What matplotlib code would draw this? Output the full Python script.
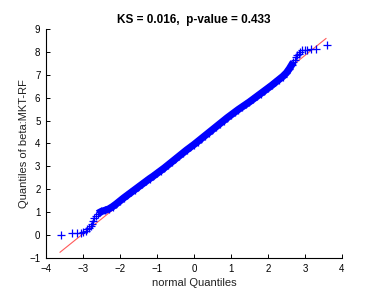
import numpy as np
import matplotlib
matplotlib.use("Agg")
import matplotlib.pyplot as plt

# theoretical normal quantiles vs sample quantiles
normal_q = [-3.60, -3.31, -3.17, -3.06, -2.99, -2.93, -2.88, -2.83, -2.79, -2.75,
            -2.72, -2.69, -2.65, -2.60, -2.55, -2.50, -2.40, -2.30, -2.20, -2.10,
            -2.00, -1.90, -1.80, -1.70, -1.60, -1.50, -1.40, -1.30, -1.20, -1.10,
            -1.00, -0.90, -0.80, -0.70, -0.60, -0.50, -0.40, -0.30, -0.20, -0.10,
            0.00, 0.10, 0.20, 0.30, 0.40, 0.50, 0.60, 0.70, 0.80, 0.90,
            1.00, 1.10, 1.20, 1.30, 1.40, 1.50, 1.60, 1.70, 1.80, 1.90,
            2.00, 2.10, 2.20, 2.30, 2.40, 2.50, 2.58, 2.64, 2.69, 2.73,
            2.76, 2.80, 2.84, 2.88, 2.93, 2.99, 3.06, 3.17, 3.31, 3.60]
beta_q = [0.02, 0.07, 0.09, 0.11, 0.15, 0.19, 0.25, 0.32, 0.40, 0.50,
          0.62, 0.75, 0.85, 0.94, 0.99, 1.03, 1.08, 1.14, 1.24, 1.36,
          1.49, 1.62, 1.74, 1.86, 1.98, 2.10, 2.22, 2.34, 2.46, 2.57,
          2.69, 2.81, 2.93, 3.06, 3.19, 3.32, 3.45, 3.58, 3.71, 3.83,
          3.95, 4.08, 4.21, 4.34, 4.47, 4.60, 4.73, 4.86, 4.99, 5.12,
          5.24, 5.36, 5.48, 5.59, 5.70, 5.81, 5.93, 6.05, 6.17, 6.29,
          6.41, 6.53, 6.66, 6.79, 6.92, 7.08, 7.26, 7.42, 7.55, 7.66,
          7.76, 7.85, 7.92, 7.99, 8.06, 8.09, 8.10, 8.11, 8.14, 8.28]

# reference line end points
ref_x = [-3.62, 3.57]
ref_y = [-0.75, 8.58]

x_ticks = [-4, -3, -2, -1, 0, 1, 2, 3, 4]
y_ticks = [-1, 0, 1, 2, 3, 4, 5, 6, 7, 8, 9]

plt.rcParams['font.family'] = ['Liberation Sans', 'DejaVu Sans']

fig = plt.figure(figsize=(3.68, 3.01), dpi=100)
ax = fig.add_axes([0.125, 0.143, 0.804, 0.761])

nq = np.array(normal_q)
bq = np.array(beta_q)
dense = (nq >= -2.6) & (nq <= 2.7)

ax.plot(ref_x, ref_y, color='#ff5a5a', lw=0.8, zorder=1)
ax.plot(nq[dense], bq[dense], color='#0000ff', lw=5.2, solid_capstyle='butt', zorder=2)
ax.plot(nq, bq, linestyle='none', marker='+', color='#0000ff',
        markersize=6, markeredgewidth=0.9, zorder=3)

ax.set_xlim(-4, 4)
ax.set_ylim(-1, 9)
ax.set_xticks(x_ticks)
ax.set_yticks(y_ticks)
ax.tick_params(direction='in', length=3, width=0.7, labelsize=7, pad=4)
for side in ['top', 'right']:
    ax.spines[side].set_visible(False)
for side in ['left', 'bottom']:
    ax.spines[side].set_linewidth(0.8)

ax.set_title('KS = 0.016,  p-value = 0.433', fontsize=8.5, fontweight='bold', pad=4)
ax.set_xlabel('normal Quantiles', fontsize=8, color='#222222', labelpad=3)
ax.set_ylabel('Quantiles of beta:MKT-RF', fontsize=8, color='#222222', labelpad=0.5)

fig.savefig('out.png', dpi=100, facecolor='white')
